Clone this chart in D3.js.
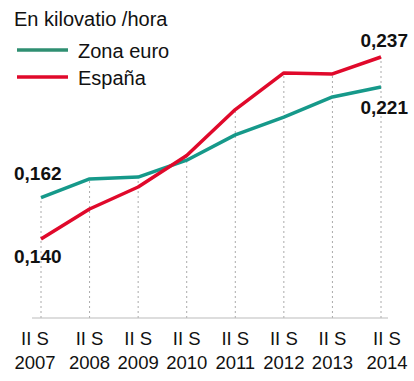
<!DOCTYPE html>
<html><head><meta charset="utf-8">
<script src="https://cdn.jsdelivr.net/npm/d3@7"></script>
<style>body{margin:0;background:#fff}svg{display:block;font-family:"Liberation Sans",Arial,sans-serif}</style>
</head><body><svg id="c" width="414" height="381"></svg>
<script>
const periods = ["2007","2008","2009","2010","2011","2012","2013","2014"];
const periodPrefix = "II S";
const zonaEuro = [0.162, 0.172, 0.173, 0.182, 0.1955, 0.205, 0.2157, 0.221];
const espana = [0.140, 0.156, 0.1677, 0.1845, 0.209, 0.2285, 0.228, 0.237];
const seriesNames = ["Zona euro", "España"];
const title = "En kilovatio /hora";

const svg = d3.select("#c");
const x = d3.scalePoint().domain(periods).range([41, 381]);
const y = d3.scaleLinear().domain([0.140, 0.237]).range([239, 57]);
const baseY = 318;
const teal = "#16998a", red = "#e0092b";
const n = periods.length;
const labelNudge = (i) => i === 0 ? -6 : (i === n - 1 ? 6 : 0);

// dotted guides
svg.append("g").selectAll("line").data(periods).join("line")
  .attr("x1", d => x(d)).attr("x2", d => x(d))
  .attr("y1", baseY).attr("y2", (d,i) => y(Math.max(zonaEuro[i], espana[i])))
  .attr("stroke", "#aaa").attr("stroke-width", 1).attr("stroke-dasharray", "2,3");

// axis line
svg.append("line").attr("x1", 32).attr("x2", 388).attr("y1", baseY).attr("y2", baseY)
  .attr("stroke", "#bbb").attr("stroke-width", 1.2);

// tick labels
const tl = svg.append("g").attr("font-size", 18.5).attr("fill", "#111").attr("text-anchor", "middle");
tl.selectAll("text.a").data(periods).join("text").attr("class","a")
  .attr("x", (d,i) => x(d) + labelNudge(i)).attr("y", 345).text(periodPrefix);
tl.selectAll("text.b").data(periods).join("text").attr("class","b")
  .attr("x", (d,i) => x(d) + labelNudge(i)).attr("y", 369).text(d => d);

const line = d3.line().x((d,i) => x(periods[i])).y(d => y(d));
svg.append("path").datum(zonaEuro).attr("d", line).attr("fill","none")
  .attr("stroke", teal).attr("stroke-width", 3.5).attr("stroke-linejoin","round");
svg.append("path").datum(espana).attr("d", line).attr("fill","none")
  .attr("stroke", red).attr("stroke-width", 3.5).attr("stroke-linejoin","round");

// value labels
const vl = svg.append("g").attr("font-size", 19).attr("font-weight", "bold").attr("fill", "#111");
const fmt = v => d3.format(".3f")(v).replace(".", ",");
vl.append("text").attr("x", 14).attr("y", 180).text(fmt(zonaEuro[0]));
vl.append("text").attr("x", 14).attr("y", 263).text(fmt(espana[0]));
vl.append("text").attr("x", 408).attr("y", 47).attr("text-anchor","end").text(fmt(espana[7]));
vl.append("text").attr("x", 408).attr("y", 114).attr("text-anchor","end").text(fmt(zonaEuro[7]));

// title & legend
svg.append("text").attr("x", 14).attr("y", 26).attr("font-size", 20).attr("fill", "#111").text(title);
const lg = [{n: seriesNames[0], c: "#2f8f72", y: 50}, {n: seriesNames[1], c: red, y: 77}];
lg.forEach(l => {
  svg.append("line").attr("x1", 17).attr("x2", 68).attr("y1", l.y).attr("y2", l.y)
    .attr("stroke", l.c).attr("stroke-width", 3.5);
  svg.append("text").attr("x", 78).attr("y", l.y + 8).attr("font-size", 20).attr("fill", "#111").text(l.n);
});
</script></body></html>
